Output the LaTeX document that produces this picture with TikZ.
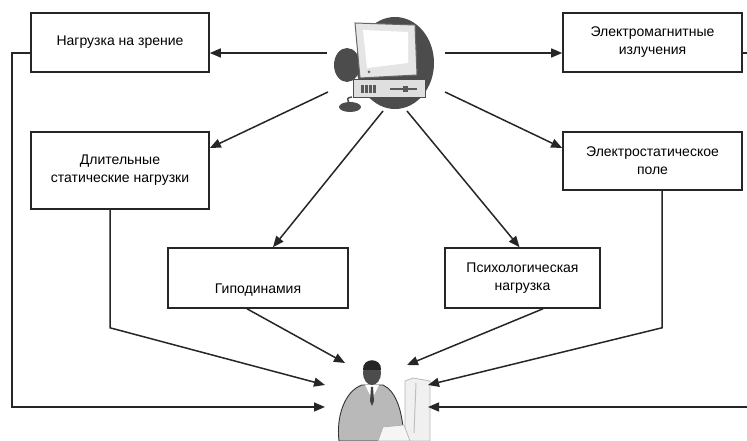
\documentclass[tikz,border=0pt]{standalone}
\usepackage{fontspec}
\setmainfont{Liberation Sans}
\usetikzlibrary{arrows.meta}

\begin{document}
\begin{tikzpicture}[x=1pt, y=1pt,
  factor/.style={draw=black!85, line width=1.6pt, fill=white, align=center, inner sep=0pt,
    font=\fontsize{14}{18}\selectfont},
  link/.style={draw=black!85, line width=1.5pt, -{Triangle[length=11pt,width=9pt]}}]
  \useasboundingbox (0,0) rectangle (747,441);

  \node[factor, minimum width=178pt, minimum height=59pt] (zrenie) at (120,398.5) {Нагрузка на зрение};
  \node[factor, minimum width=179pt, minimum height=59pt] (emi) at (652.5,398.5) {Электромагнитные\\излучения};
  \node[factor, minimum width=178pt, minimum height=77pt] (static) at (120,270.5) {Длительные\\статические нагрузки};
  \node[factor, minimum width=179pt, minimum height=58pt] (esp) at (652.5,280) {Электростатическое\\поле};
  \node[factor, minimum width=180pt, minimum height=60pt] (gipo) at (258,163) {};
  \node[font=\fontsize{14}{18}\selectfont] (gipotext) at ([yshift=-12pt]gipo.center) {Гиподинамия};
  \node[factor, minimum width=155pt, minimum height=60pt] (psy) at (522.5,163) {Психологическая\\нагрузка};

  \fill[black!70] (395,378) ellipse (39 and 46);
  \fill[black!70] (347,376) ellipse (13 and 17);
  \filldraw[fill=gray!20, draw=black!60, line width=1pt] (355,418) -- (415,416) -- (417,366) -- (360,363) -- cycle;
  \fill[white] (363,411) -- (408,409) -- (408,378) -- (367,373) -- cycle;
  \fill[black!60] (369,369) circle (1.5);
  \filldraw[fill=gray!25, draw=black!70, line width=1pt] (353,361) rectangle (425,343);
  \foreach \sx in {361,365,369,373}
    \fill[black!65] (\sx,356) rectangle ++(2.5,-8);
  \draw[black!65, line width=1.2pt] (390,352) -- (417,352);
  \fill[black!65] (403,355) rectangle (408,349);
  \draw[black!70, line width=1.5pt] (349,338) .. controls (347,343) .. (352,344);
  \fill[black!70] (350,334) ellipse (11 and 5);

  \filldraw[fill=gray!12, draw=gray!55, line width=0.8pt] (405,0) -- (405,60) -- (413,63) -- (430,60) -- (430,0) -- cycle;
  \draw[gray!50, line width=1pt] (416,58) -- (414,8);
  \filldraw[fill=gray!55, draw=black!80, line width=0.9pt] (339,0) .. controls (336,25) and (345,50) .. (362,56)
     -- (383,56) .. controls (396,50) and (403,30) .. (404,0) -- cycle;
  \fill[white] (365,56) -- (372,42) -- (379,56) -- cycle;
  \fill[black!75] (371,54) -- (373,54) -- (374,40) -- (372,35) -- (370,40) -- cycle;
  \fill[gray!60!black] (372,68) ellipse (9 and 12);
  \fill[black!85] (363,71) .. controls (362,84) and (382,84) .. (381,71) -- cycle;
  \filldraw[fill=gray!8, draw=gray!60, line width=0.7pt] (378,0) -- (383,14) -- (404,16) -- (410,0) -- cycle;

  \coordinate (pcL) at (327,388);
  \coordinate (pcR) at (445,388);
  \coordinate (pcLL) at (328,349);
  \coordinate (pcRL) at (445,349);
  \coordinate (pcBL) at (383,330);
  \coordinate (pcBR) at (407,330);
  \coordinate (manL1) at (325,34);
  \coordinate (manL2) at (325,56);
  \coordinate (manL3) at (345,78);
  \coordinate (manR1) at (428,34);
  \coordinate (manR2) at (428,56);
  \coordinate (manR3) at (407,76);
  \coordinate (railL) at (12,34);
  \coordinate (railR) at (748,34);

  \draw[link] (pcL) -- (pcL -| zrenie.east);
  \draw[link] (pcR) -- (pcR -| emi.west);
  \draw[link] (pcLL) -- ([yshift=22.5pt]static.east);
  \draw[link] (pcRL) -- ([yshift=13pt]esp.west);
  \draw[link] (pcBL) -- ([xshift=15pt]gipo.north);
  \draw[link] (pcBR) -- ([xshift=-3pt]psy.north);

  \draw[link] (pcL -| zrenie.west) -| (railL) -- (manL1);
  \draw[link] (pcR -| emi.east) -| (railR) -- (manR1);
  \draw[link] ([xshift=-10pt]static.south) -- ++(0,-118) -- (manL2);
  \draw[link] ([xshift=9.5pt]esp.south) -- ++(0,-137) -- (manR2);
  \draw[link] ([xshift=-11pt]gipo.south) -- (manL3);
  \draw[link] ([xshift=20.5pt]psy.south) -- (manR3);
\end{tikzpicture}
\end{document}
